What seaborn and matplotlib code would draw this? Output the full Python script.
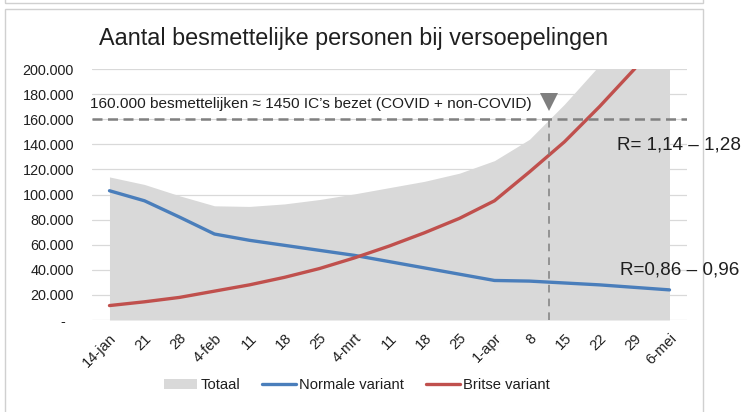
import numpy as np
import pandas as pd
import matplotlib
matplotlib.use("Agg")
import matplotlib.pyplot as plt
import matplotlib.transforms as mtransforms
import seaborn as sns
from matplotlib.patches import Patch, Rectangle
from matplotlib.lines import Line2D
from matplotlib.ticker import FuncFormatter, MultipleLocator

# ----------------------------
# Data
# ----------------------------
weeks = ["14-jan", "21", "28", "4-feb", "11", "18", "25", "4-mrt", "11", "18",
         "25", "1-apr", "8", "15", "22", "29", "6-mei"]
normale = [103000, 95000, 82000, 68500, 63500, 59500, 55500, 51500, 46500,
           41500, 36500, 31500, 31000, 29500, 28000, 26000, 24000]
britse = [11500, 14500, 18000, 23000, 28000, 34000, 41000, 49500, 59000,
          69500, 81000, 95000, 118000, 142000, 170000, 200000, 235000]
totaal = [114000, 108000, 99000, 91000, 90500, 92500, 96000, 100500, 105500,
          110500, 117000, 127000, 144000, 172000, 203000, 235000, 260000]

ic_limit = 160000          # 160.000 besmettelijken ~ 1450 IC's
ic_week_pos = 12.57        # moment the total crosses the IC limit (between 8 and 15 apr)

df = pd.DataFrame({
    "pos": np.arange(len(weeks)),
    "Totaal": totaal,
    "Normale variant": normale,
    "Britse variant": britse,
})

# ----------------------------
# Style
# ----------------------------
sns.set_theme(style="white")
plt.rcParams["font.family"] = ["Liberation Sans", "DejaVu Sans"]

GREY_AREA = "#d9d9d9"
BLUE = "#4a7ebb"
RED = "#c0504d"
DASH = "#808080"
TXT = "#1f1f1f"

fig = plt.figure(figsize=(7.49, 4.12), dpi=100)
ax = fig.add_axes([0.1228, 0.2233, 0.7944, 0.6092])

# area + lines
ax.fill_between(df["pos"], 0, df["Totaal"], color=GREY_AREA, lw=0, zorder=1)
sns.lineplot(data=df, x="pos", y="Normale variant", color=BLUE, lw=2.4, ax=ax, zorder=3)
sns.lineplot(data=df, x="pos", y="Britse variant", color=RED, lw=2.4, ax=ax, zorder=3)

# IC threshold annotations
ax.axhline(ic_limit, color=DASH, lw=1.8, ls=(0, (4, 2.2)), zorder=4)
ax.plot([ic_week_pos, ic_week_pos], [0, ic_limit + 3000], color=DASH, lw=1.1,
        ls=(0, (5, 4)), zorder=4)
ax.plot([ic_week_pos], [173500], marker="v", color="#7f7f7f", markersize=13,
        markeredgewidth=0, zorder=5)
ax.text(-0.55, 166500, "160.000 besmettelijken \u2248 1450 IC\u2019s bezet (COVID + non-COVID)",
        fontsize=11.1, color=TXT, ha="left", va="bottom", zorder=5)

# axes
ax.set_xlim(-0.5, len(weeks) - 0.5)
ax.set_ylim(0, 200000)
ax.yaxis.set_major_locator(MultipleLocator(20000))
ax.yaxis.set_major_formatter(FuncFormatter(
    lambda v, p: "-  " if v == 0 else f"{v:,.0f}".replace(",", ".")))
ax.set_xticks(df["pos"])
ax.set_xticklabels(weeks, rotation=45, ha="right", va="top", rotation_mode="anchor")
shift = mtransforms.ScaledTranslation(-4 / 100, 0, fig.dpi_scale_trans)
for lab in ax.get_xticklabels():
    lab.set_transform(lab.get_transform() + shift)
ax.tick_params(axis="x", length=0, pad=8, labelsize=10.6, labelcolor=TXT)
ax.tick_params(axis="y", length=0, pad=13, labelsize=10.4, labelcolor=TXT)
ax.grid(axis="y", color="#d9d9d9", lw=0.9, zorder=0)
ax.set_axisbelow(True)
for s in ax.spines.values():
    s.set_visible(False)
ax.set_xlabel("")
ax.set_ylabel("")

# R-value labels on the right
fig.text(0.824, 0.648, "R= 1,14 \u2013 1,28", fontsize=13.6, color=TXT,
         ha="left", va="center")
fig.text(0.828, 0.345, "R=0,86 \u2013 0,96", fontsize=13.6, color=TXT,
         ha="left", va="center")

# title
fig.text(0.472, 0.907, "Aantal besmettelijke personen bij versoepelingen",
         fontsize=16.8, color=TXT, ha="center", va="center")

# legend
handles = [
    Patch(facecolor=GREY_AREA, edgecolor="none", label="Totaal"),
    Line2D([0], [0], color=BLUE, lw=2.4, label="Normale variant"),
    Line2D([0], [0], color=RED, lw=2.4, label="Britse variant"),
]
fig.legend(handles=handles, loc="center", bbox_to_anchor=(0.476, 0.065), ncol=3,
           frameon=False, fontsize=10.6, handlelength=2.3, columnspacing=1.5,
           handletextpad=0.2, labelcolor=TXT)

# chart frames like the Excel export
fig.patches.append(Rectangle((5 / 749, -0.05), 698 / 749, 1.05 - 9 / 412,
                             transform=fig.transFigure, fill=False,
                             edgecolor="#d0d0d0", lw=1.0))
fig.patches.append(Rectangle((5 / 749, 1 - 3 / 412), 698 / 749, 0.05,
                             transform=fig.transFigure, fill=False,
                             edgecolor="#d0d0d0", lw=1.0))

fig.savefig("out.png", dpi=100)
